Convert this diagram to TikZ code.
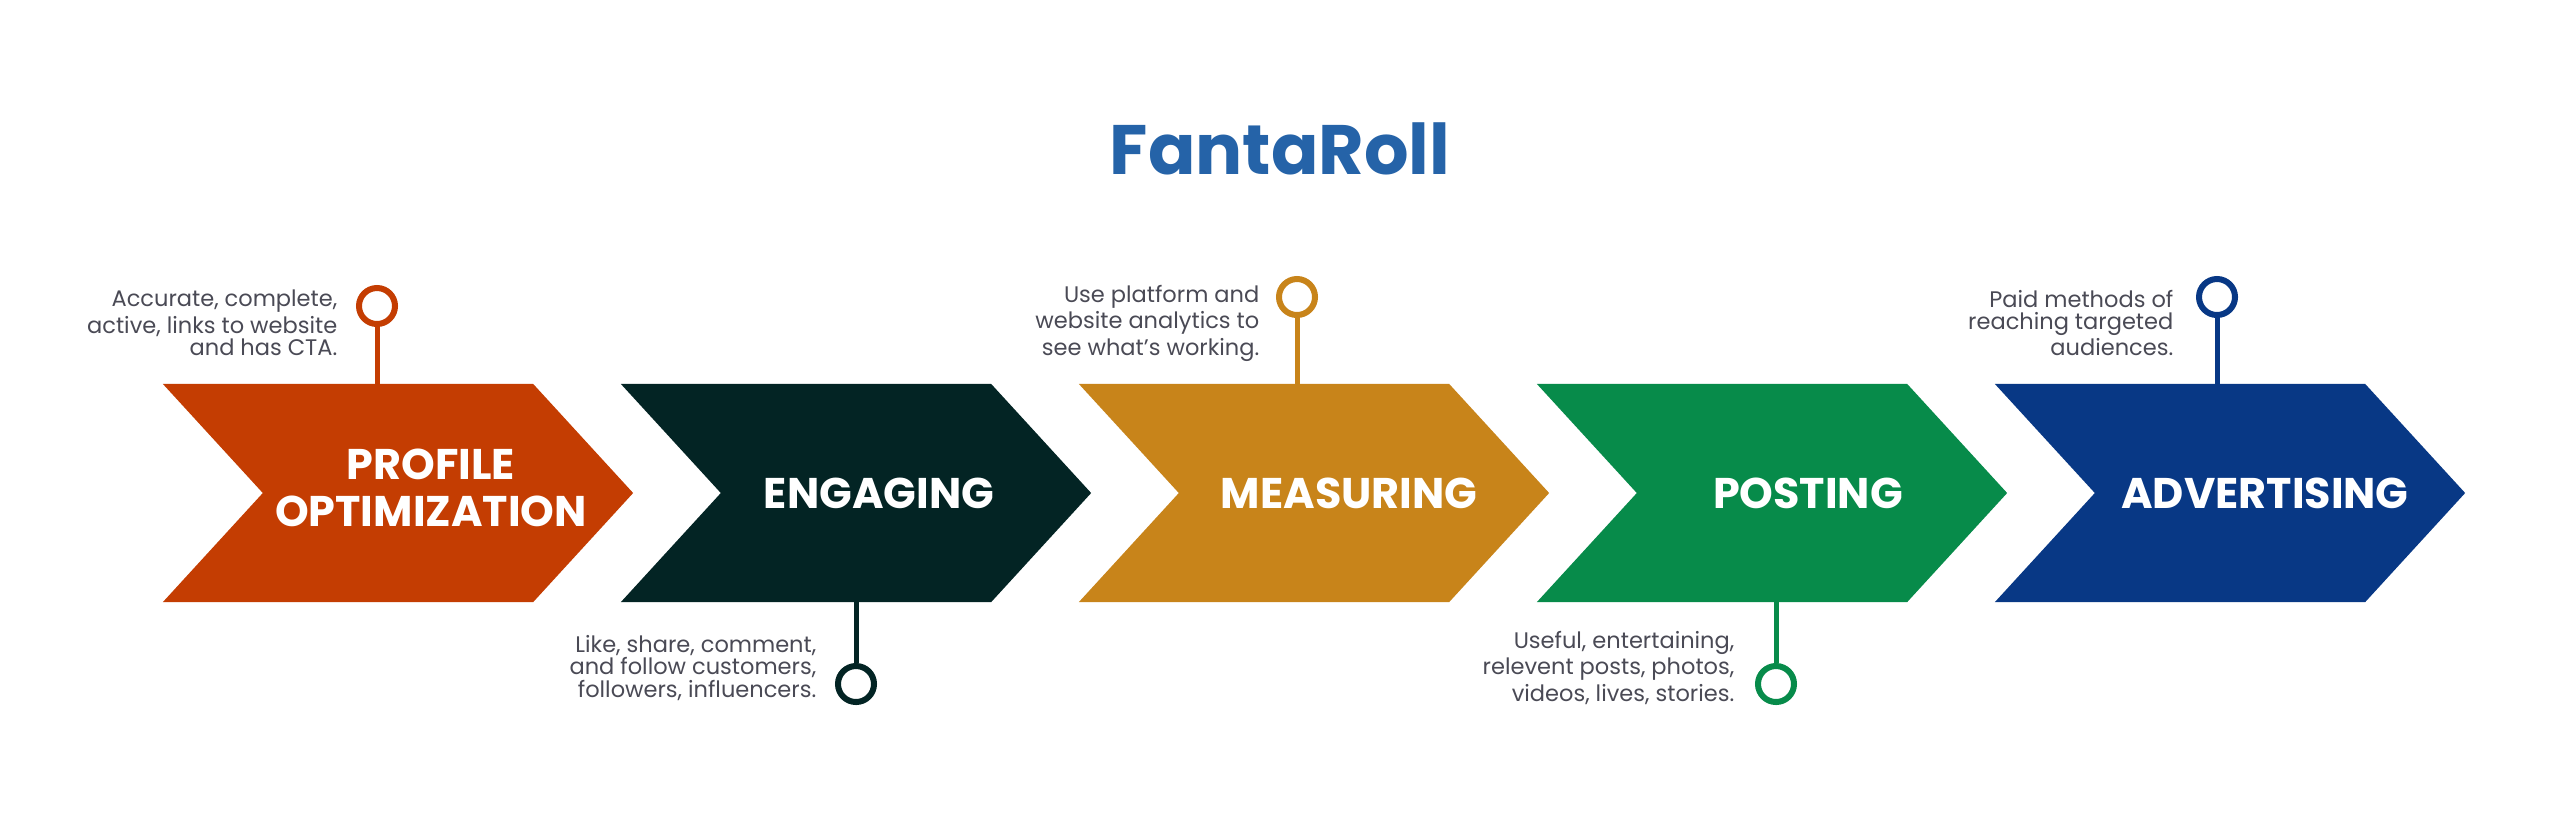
\documentclass[tikz,border=0pt]{standalone}
\usepackage{fontspec}
\setmainfont{Poppins}
\usetikzlibrary{shapes.symbols}
\definecolor{profileorange}{HTML}{C43D02}
\definecolor{engagingdark}{HTML}{032424}
\definecolor{measuringgold}{HTML}{C8841A}
\definecolor{postinggreen}{HTML}{078B4A}
\definecolor{advertisingblue}{HTML}{083885}
\definecolor{titleblue}{HTML}{2563A8}
\definecolor{notegray}{HTML}{4A4A55}
\begin{document}
\begin{tikzpicture}[x=0.01cm,y=-0.01cm]
        \tikzset{chevron/.style={signal, signal from=west, signal to=east, signal pointer angle=95, minimum width=4.7cm, minimum height=2.18cm, inner sep=0pt, outer sep=0pt},
          steplabel/.style={text=white, font=\bfseries\fontsize{12.2pt}{13.3pt}\selectfont, align=center, inner sep=0pt},
          pin/.style={circle, draw, line width=0.06cm, fill=white, minimum size=0.36cm, inner sep=0pt},
          stem/.style={line width=0.05cm},
          note/.style={text=notegray, font=\fontsize{6.4pt}{6.3pt}\selectfont, align=right, inner sep=0pt, anchor=east}}
        \fill[white] (0,0) rectangle (2560,823);
        \useasboundingbox (0,0) rectangle (2560,823);
        \node[font=\bfseries\fontsize{19.9pt}{24pt}\selectfont, text=titleblue, anchor=base] (title) at (1280,174) {FantaRoll};
        % steps
        \node[chevron, fill=profileorange] (profile) at (398,493) {};
        \node[chevron, fill=engagingdark] (engaging) at (856,493) {};
        \node[chevron, fill=measuringgold] (measuring) at (1314,493) {};
        \node[chevron, fill=postinggreen] (posting) at (1772,493) {};
        \node[chevron, fill=advertisingblue] (advertising) at (2230,493) {};
        \node[steplabel] (profile label) at (431,488) {PROFILE\\OPTIMIZATION};
        \node[steplabel] (engaging label) at (879,493) {ENGAGING};
        \node[steplabel] (measuring label) at (1349,493) {MEASURING};
        \node[steplabel] (posting label) at (1808,493) {POSTING};
        \node[steplabel] (advertising label) at (2265,493) {ADVERTISING};
        % pins
        \node[pin, draw=profileorange] (profile pin) at (377,306) {};
        \node[pin, draw=engagingdark] (engaging pin) at (856,684) {};
        \node[pin, draw=measuringgold] (measuring pin) at (1297,297) {};
        \node[pin, draw=postinggreen] (posting pin) at (1776,684) {};
        \node[pin, draw=advertisingblue] (advertising pin) at (2217,297) {};
        \draw[stem, profileorange] (profile pin.south) -- (profile pin.south |- profile.north);
        \draw[stem, engagingdark] (engaging pin.north) -- (engaging pin.north |- engaging.south);
        \draw[stem, measuringgold] (measuring pin.south) -- (measuring pin.south |- measuring.north);
        \draw[stem, postinggreen] (posting pin.north) -- (posting pin.north |- posting.south);
        \draw[stem, advertisingblue] (advertising pin.south) -- (advertising pin.south |- advertising.north);
        % notes
        \node[note] (profile note) at (338,323) {Accurate, complete,\\active, links to website\\and has CTA.};
        \node[note] (engaging note) at (817,668) {Like, share, comment,\\and follow customers,\\followers, influencers.};
        \node[note] (measuring note) at (1260,323) {Use platform and\\website analytics to\\see what’s working.};
        \node[note] (posting note) at (1735,668) {Useful, entertaining,\\relevent posts, photos,\\videos, lives, stories.};
        \node[note] (advertising note) at (2174,323) {Paid methods of\\reaching targeted\\audiences.};
      \end{tikzpicture}
\end{document}
